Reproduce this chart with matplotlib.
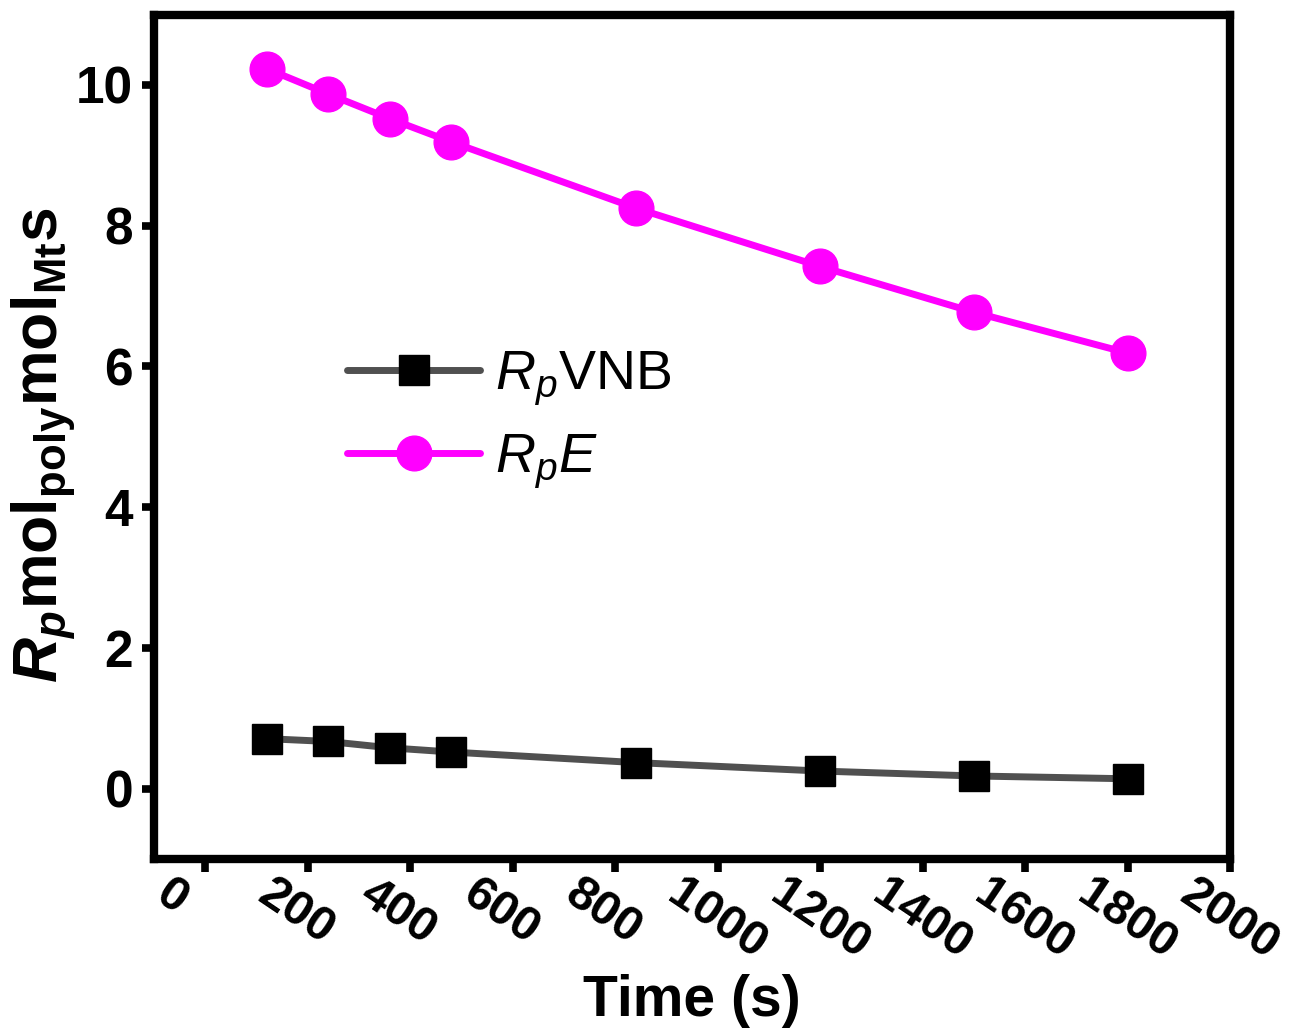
import matplotlib
matplotlib.use("Agg")
import matplotlib.pyplot as plt
from matplotlib.ticker import MultipleLocator
from matplotlib.transforms import ScaledTranslation

plt.rcParams['font.family'] = ['Liberation Sans', 'DejaVu Sans']
plt.rcParams['mathtext.fontset'] = 'custom'
plt.rcParams['mathtext.rm'] = 'Liberation Sans'
plt.rcParams['mathtext.it'] = 'Liberation Sans:italic'
plt.rcParams['mathtext.bf'] = 'Liberation Sans:bold'
plt.rcParams['mathtext.bfit'] = 'Liberation Sans:bold:italic'

time_s = [120, 240, 360, 480, 840, 1200, 1500, 1800]
rp_vnb = [0.71, 0.67, 0.58, 0.52, 0.37, 0.25, 0.18, 0.14]
rp_e = [10.23, 9.87, 9.52, 9.19, 8.25, 7.42, 6.77, 6.19]
xticks = [0, 200, 400, 600, 800, 1000, 1200, 1400, 1600, 1800, 2000]
yticks = [0, 2, 4, 6, 8, 10]

fig = plt.figure(figsize=(12.96, 10.33), dpi=100)
ax = fig.add_axes([154/1296, 1-859/1033, (1230-154)/1296, (859-14.5)/1033])

ax.plot(time_s, rp_vnb, color='#505050', lw=5, marker='s', ms=22,
        mfc='black', mec='black', label=r'$R_p$VNB', solid_capstyle='round')
ax.plot(time_s, rp_e, color='#FF00FF', lw=5, marker='o', ms=25,
        mfc='#FF00FF', mec='#FF00FF', label=r'$R_pE$', solid_capstyle='round')

ax.set_xlim(-100, 2000)
ax.set_ylim(-1, 11)

for s in ax.spines.values():
    s.set_linewidth(6)

ax.set_xticks(xticks)
ax.set_xticklabels([])
ax.xaxis.set_minor_locator(MultipleLocator(100))
ax.set_yticks(yticks)
ax.set_yticklabels([str(v) for v in yticks], fontsize=37, fontweight='bold')
ax.yaxis.set_minor_locator(MultipleLocator(1))
ax.tick_params(axis='both', which='major', direction='out', length=9, width=5.5, pad=6)
ax.tick_params(axis='both', which='minor', direction='out', length=3, width=5.5)
ax.tick_params(top=False, right=False)

offset = ScaledTranslation(-33/100, -12/100, fig.dpi_scale_trans)
for xv in xticks:
    ax.text(xv, 0, str(xv), transform=ax.get_xaxis_transform() + offset,
            rotation=-34, rotation_mode='anchor', ha='left', va='top',
            fontsize=35, fontweight='bold')

ax.set_xlabel('Time (s)', fontsize=41, fontweight='bold', labelpad=68)
ax.set_ylabel(r'$\mathbfit{R}_{\mathbfit{p}}\mathbf{mol}_{\mathbf{poly}}\mathbf{mol}_{\mathbf{Mt}}\mathbf{s}$',
              fontsize=45)
ax.yaxis.set_label_coords((78-154)/1076, 0.49)

leg = ax.legend(loc='upper left', bbox_to_anchor=((347-154)/1076, 0.603),
                frameon=False, fontsize=40, handlelength=2.4, handletextpad=0.27,
                borderpad=0, borderaxespad=0, labelspacing=0.43)

fig.savefig('out.png', dpi=100)
